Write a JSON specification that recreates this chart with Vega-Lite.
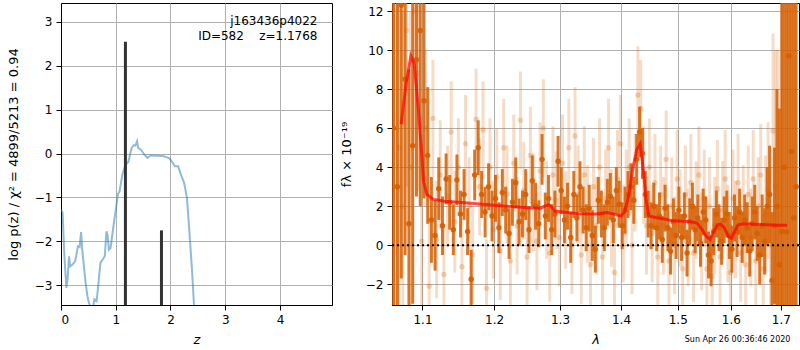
{
"$schema": "https://vega.github.io/schema/vega-lite/v6.json",
"padding": {"left": 6, "top": 2, "right": 0, "bottom": 0},
"spacing": 6,
"config": {
  "view": {"stroke": "black", "strokeWidth": 1},
  "font": "DejaVu Sans",
  "axis": {"grid": true, "gridColor": "#b0b0b0", "gridWidth": 1, "domainColor": "black", "tickColor": "black", "tickSize": 5, "labelFontSize": 12, "labelColor": "black", "labelPadding": 4, "titleFontSize": 13, "titleFontWeight": "normal", "titleColor": "black", "labelFont": "DejaVu Sans", "titleFont": "DejaVu Sans"}
},
"datasets": {
  "pz": [
    {"z":0.0,"lp":-1.27},{"z":0.03,"lp":-1.35},{"z":0.06,"lp":-2.3},{"z":0.098,"lp":-3.06},{"z":0.12,"lp":-2.87},{"z":0.147,"lp":-2.34},{"z":0.165,"lp":-2.57},{"z":0.21,"lp":-2.53},{"z":0.26,"lp":-2.45},{"z":0.31,"lp":-2.11},{"z":0.34,"lp":-2.13},{"z":0.367,"lp":-1.79},{"z":0.385,"lp":-2.15},{"z":0.446,"lp":-2.91},{"z":0.483,"lp":-3.25},{"z":0.51,"lp":-3.4},{"z":0.57,"lp":-3.6},{"z":0.61,"lp":-3.32},{"z":0.65,"lp":-3.36},{"z":0.67,"lp":-3.14},{"z":0.72,"lp":-2.49},{"z":0.78,"lp":-2.38},{"z":0.8,"lp":-2.34},{"z":0.83,"lp":-1.77},{"z":0.85,"lp":-1.85},{"z":0.875,"lp":-2.19},{"z":0.905,"lp":-2.15},{"z":0.954,"lp":-1.69},{"z":0.997,"lp":-1.31},{"z":1.04,"lp":-0.92},{"z":1.07,"lp":-0.86},{"z":1.12,"lp":-0.48},{"z":1.18,"lp":-0.25},{"z":1.23,"lp":-0.19},{"z":1.29,"lp":0.13},{"z":1.33,"lp":0.19},{"z":1.36,"lp":0.18},{"z":1.39,"lp":0.28},{"z":1.41,"lp":0.13},{"z":1.46,"lp":0.09},{"z":1.52,"lp":-0.02},{"z":1.58,"lp":-0.1},{"z":1.64,"lp":-0.04},{"z":1.7,"lp":-0.05},{"z":1.79,"lp":-0.05},{"z":1.88,"lp":-0.06},{"z":1.98,"lp":-0.11},{"z":2.04,"lp":-0.21},{"z":2.08,"lp":-0.29},{"z":2.14,"lp":-0.29},{"z":2.19,"lp":-0.48},{"z":2.25,"lp":-0.67},{"z":2.3,"lp":-1.01},{"z":2.34,"lp":-1.69},{"z":2.39,"lp":-2.6},{"z":2.43,"lp":-3.45},{"z":2.46,"lp":-4.0}
  ],
  "zl": [{"z":1.1768,"y0":-3.6,"y1":2.55},{"z":1.835,"y0":-3.6,"y1":-1.75}],
  "ann": [{"z":4.685,"y":3.02,"t":"j163436p4022"},{"z":4.685,"y":2.68,"t":"ID=582\u00a0\u00a0\u00a0\u00a0z=1.1768"}],
  "dk": [
    {"l":1.062,"f":6.0,"lo":-9,"hi":21},{"l":1.067,"f":3.0,"lo":-9,"hi":15},{"l":1.072,"f":12.3,"lo":-1.7,"hi":26.3},{"l":1.077,"f":8.5,"lo":-0.5,"hi":17.5},{"l":1.082,"f":1.1,"lo":-6,"hi":9},{"l":1.087,"f":5.1,"lo":-3,"hi":16},{"l":1.092,"f":9.5,"lo":2.5,"hi":16.5},{"l":1.097,"f":11.0,"lo":2,"hi":20},{"l":1.102,"f":7.4,"lo":2.4,"hi":12.4},{"l":1.107,"f":4.6,"lo":1.1,"hi":8.1},
    {"l":1.112,"f":1.3,"lo":-0.9,"hi":3.5},{"l":1.117,"f":0.5,"lo":-1.3,"hi":2.3},{"l":1.122,"f":2.9,"lo":1.3,"hi":4.5},{"l":1.127,"f":1.0,"lo":-0.5,"hi":2.5},{"l":1.132,"f":3.4,"lo":2.1,"hi":4.7},{"l":1.137,"f":2.2,"lo":0.8,"hi":3.6},{"l":1.142,"f":0.8,"lo":-0.5,"hi":2.1},{"l":1.147,"f":3.35,"lo":2.05,"hi":4.65},{"l":1.152,"f":1.6,"lo":0.4,"hi":2.8},{"l":1.157,"f":2.6,"lo":1.3,"hi":3.9},
    {"l":1.162,"f":0.7,"lo":-0.5,"hi":1.9},{"l":1.167,"f":-1.74,"lo":-3.24,"hi":-0.24},{"l":1.172,"f":3.6,"lo":2.3,"hi":4.9},{"l":1.177,"f":5.0,"lo":3.6,"hi":6.4},{"l":1.182,"f":2.6,"lo":1.4,"hi":3.8},{"l":1.187,"f":1.7,"lo":0.4,"hi":3.0},{"l":1.192,"f":3.0,"lo":1.8,"hi":4.2},{"l":1.197,"f":1.5,"lo":0.2,"hi":2.8},{"l":1.202,"f":2.4,"lo":1.2,"hi":3.6},{"l":1.207,"f":0.9,"lo":-0.4,"hi":2.2},
    {"l":1.212,"f":2.7,"lo":1.5,"hi":3.9},{"l":1.217,"f":1.8,"lo":0.6,"hi":3.0},{"l":1.222,"f":0.6,"lo":-0.7,"hi":1.9},{"l":1.227,"f":2.2,"lo":1.0,"hi":3.4},{"l":1.232,"f":3.2,"lo":1.9,"hi":4.5},{"l":1.237,"f":1.2,"lo":0.0,"hi":2.4},{"l":1.242,"f":1.6,"lo":0.4,"hi":2.8},{"l":1.247,"f":2.6,"lo":1.3,"hi":3.9},{"l":1.252,"f":0.8,"lo":-0.4,"hi":2.0},{"l":1.257,"f":3.3,"lo":2.0,"hi":4.6},
    {"l":1.262,"f":2.0,"lo":0.8,"hi":3.2},{"l":1.267,"f":1.1,"lo":-0.1,"hi":2.3},{"l":1.272,"f":4.4,"lo":3.1,"hi":5.7},{"l":1.277,"f":1.5,"lo":0.3,"hi":2.7},{"l":1.282,"f":2.4,"lo":1.2,"hi":3.6},{"l":1.287,"f":0.8,"lo":-0.5,"hi":2.1},{"l":1.292,"f":1.6,"lo":0.4,"hi":2.8},{"l":1.297,"f":4.3,"lo":3.0,"hi":5.6},{"l":1.302,"f":2.8,"lo":1.6,"hi":4.0},{"l":1.307,"f":1.3,"lo":0.1,"hi":2.5},
    {"l":1.312,"f":2.0,"lo":0.8,"hi":3.2},{"l":1.317,"f":0.4,"lo":-0.9,"hi":1.7},{"l":1.322,"f":2.6,"lo":1.4,"hi":3.8},{"l":1.327,"f":1.4,"lo":0.2,"hi":2.6},{"l":1.332,"f":3.0,"lo":1.7,"hi":4.3},{"l":1.337,"f":1.8,"lo":0.6,"hi":3.0},{"l":1.342,"f":0.9,"lo":-0.3,"hi":2.1},{"l":1.347,"f":1.9,"lo":0.7,"hi":3.1},{"l":1.352,"f":0.5,"lo":-0.8,"hi":1.8},{"l":1.357,"f":-0.2,"lo":-1.4,"hi":1.0},
    {"l":1.362,"f":2.3,"lo":1.1,"hi":3.5},{"l":1.367,"f":1.6,"lo":0.4,"hi":2.8},{"l":1.372,"f":0.9,"lo":-0.3,"hi":2.1},{"l":1.377,"f":2.2,"lo":1.0,"hi":3.4},{"l":1.382,"f":2.5,"lo":1.3,"hi":3.7},{"l":1.387,"f":1.3,"lo":0.1,"hi":2.5},{"l":1.392,"f":2.8,"lo":1.6,"hi":4.0},{"l":1.397,"f":2.1,"lo":0.9,"hi":3.3},{"l":1.402,"f":1.0,"lo":-0.2,"hi":2.2},{"l":1.407,"f":1.8,"lo":0.6,"hi":3.0},
    {"l":1.412,"f":2.6,"lo":1.4,"hi":3.8},{"l":1.417,"f":3.0,"lo":1.8,"hi":4.2},{"l":1.422,"f":2.3,"lo":1.1,"hi":3.5},{"l":1.427,"f":4.4,"lo":3.1,"hi":5.7},{"l":1.432,"f":5.8,"lo":4.5,"hi":7.1},{"l":1.437,"f":4.7,"lo":3.4,"hi":6.0},{"l":1.442,"f":2.6,"lo":1.4,"hi":3.8},{"l":1.447,"f":1.6,"lo":0.4,"hi":2.8},{"l":1.452,"f":1.0,"lo":-0.2,"hi":2.2},{"l":1.457,"f":2.0,"lo":0.8,"hi":3.2},
    {"l":1.462,"f":0.9,"lo":-0.3,"hi":2.1},{"l":1.467,"f":1.5,"lo":0.3,"hi":2.7},{"l":1.472,"f":0.3,"lo":-0.9,"hi":1.5},{"l":1.477,"f":1.9,"lo":0.7,"hi":3.1},{"l":1.482,"f":0.9,"lo":-0.3,"hi":2.1},{"l":1.487,"f":-0.3,"lo":-1.5,"hi":0.9},{"l":1.492,"f":1.2,"lo":0.0,"hi":2.4},{"l":1.497,"f":0.5,"lo":-0.7,"hi":1.7},{"l":1.502,"f":1.8,"lo":0.6,"hi":3.0},{"l":1.507,"f":0.4,"lo":-0.8,"hi":1.6},
    {"l":1.512,"f":1.5,"lo":0.3,"hi":2.7},{"l":1.517,"f":-0.4,"lo":-1.6,"hi":0.8},{"l":1.522,"f":1.2,"lo":0.0,"hi":2.4},{"l":1.527,"f":2.0,"lo":0.8,"hi":3.2},{"l":1.532,"f":0.8,"lo":-0.4,"hi":2.0},{"l":1.537,"f":1.4,"lo":0.2,"hi":2.6},{"l":1.542,"f":0.1,"lo":-1.1,"hi":1.3},{"l":1.547,"f":1.7,"lo":0.5,"hi":2.9},{"l":1.552,"f":1.3,"lo":0.1,"hi":2.5},{"l":1.557,"f":-0.5,"lo":-1.7,"hi":0.7},
    {"l":1.562,"f":-0.8,"lo":-2.1,"hi":0.5},{"l":1.567,"f":0.7,"lo":-0.5,"hi":1.9},{"l":1.572,"f":1.6,"lo":0.4,"hi":2.8},{"l":1.577,"f":0.9,"lo":-0.3,"hi":2.1},{"l":1.582,"f":0.2,"lo":-1.0,"hi":1.4},{"l":1.587,"f":1.3,"lo":0.1,"hi":2.5},{"l":1.592,"f":1.6,"lo":0.4,"hi":2.8},{"l":1.597,"f":0.5,"lo":-0.7,"hi":1.7},{"l":1.602,"f":-0.2,"lo":-1.4,"hi":1.0},{"l":1.607,"f":1.4,"lo":0.2,"hi":2.6},
    {"l":1.612,"f":0.7,"lo":-0.6,"hi":2.0},{"l":1.617,"f":1.7,"lo":0.5,"hi":2.9},{"l":1.622,"f":0.4,"lo":-0.9,"hi":1.7},{"l":1.627,"f":1.3,"lo":0.0,"hi":2.6},{"l":1.632,"f":0.9,"lo":-0.4,"hi":2.2},{"l":1.637,"f":-0.3,"lo":-1.6,"hi":1.0},{"l":1.642,"f":1.1,"lo":-0.3,"hi":2.5},{"l":1.647,"f":1.7,"lo":0.3,"hi":3.1},{"l":1.652,"f":0.6,"lo":-0.8,"hi":2.0},{"l":1.657,"f":-0.5,"lo":-2.0,"hi":1.0},
    {"l":1.662,"f":1.0,"lo":-0.6,"hi":2.6},{"l":1.667,"f":0.2,"lo":-1.5,"hi":1.9},{"l":1.672,"f":2.0,"lo":0.0,"hi":4.0},{"l":1.677,"f":2.6,"lo":0.1,"hi":5.1},{"l":1.682,"f":-1.8,"lo":-5.3,"hi":1.7},{"l":1.687,"f":1.0,"lo":-3,"hi":5},{"l":1.692,"f":2.0,"lo":-4,"hi":8},{"l":1.697,"f":-1.0,"lo":-9,"hi":7},{"l":1.702,"f":0.7,"lo":-11.3,"hi":12.7},{"l":1.707,"f":4.0,"lo":-10,"hi":18},
    {"l":1.712,"f":0.68,"lo":-15.3,"hi":16.7},{"l":1.717,"f":9.7,"lo":-8.3,"hi":27.7},{"l":1.722,"f":4.8,"lo":-15.2,"hi":24.8},{"l":1.727,"f":1.4,"lo":-18,"hi":21},{"l":1.732,"f":3.0,"lo":-17,"hi":23}
  ],
  "lt": [
    {"l":1.064,"f":3,"lo":-7,"hi":13},{"l":1.069,"f":5.0,"lo":-4,"hi":14},{"l":1.074,"f":2.0,"lo":-8,"hi":12},{"l":1.079,"f":11.0,"lo":3,"hi":19},{"l":1.084,"f":4.0,"lo":-4,"hi":12},{"l":1.089,"f":12.0,"lo":5,"hi":19},{"l":1.094,"f":8.8,"lo":2.8,"hi":14.8},{"l":1.099,"f":0.2,"lo":-4.8,"hi":5.2},{"l":1.104,"f":6.0,"lo":2,"hi":10},{"l":1.109,"f":-2.1,"lo":-5.6,"hi":1.4},
    {"l":1.114,"f":6.5,"lo":3.5,"hi":9.5},{"l":1.119,"f":0.3,"lo":-2.7,"hi":3.3},{"l":1.124,"f":3.6,"lo":0.8,"hi":6.4},{"l":1.129,"f":-1.5,"lo":-4.1,"hi":1.1},{"l":1.134,"f":2.5,"lo":-0.1,"hi":5.1},{"l":1.139,"f":5.8,"lo":3.2,"hi":8.4},{"l":1.144,"f":1.2,"lo":-1.4,"hi":3.8},{"l":1.149,"f":4.0,"lo":1.5,"hi":6.5},{"l":1.154,"f":-1.1,"lo":-3.6,"hi":1.4},{"l":1.159,"f":5.2,"lo":2.7,"hi":7.7},
    {"l":1.164,"f":2.0,"lo":-0.5,"hi":4.5},{"l":1.169,"f":-0.5,"lo":-3.0,"hi":2.0},{"l":1.174,"f":6.45,"lo":3.85,"hi":9.05},{"l":1.179,"f":3.0,"lo":0.5,"hi":5.5},{"l":1.184,"f":5.9,"lo":3.4,"hi":8.4},{"l":1.189,"f":-2.2,"lo":-4.7,"hi":0.3},{"l":1.194,"f":4.0,"lo":1.5,"hi":6.5},{"l":1.199,"f":0.8,"lo":-1.7,"hi":3.3},{"l":1.204,"f":3.5,"lo":1.0,"hi":6.0},{"l":1.209,"f":-0.3,"lo":-2.8,"hi":2.2},
    {"l":1.214,"f":5.0,"lo":2.5,"hi":7.5},{"l":1.219,"f":2.6,"lo":0.1,"hi":5.1},{"l":1.224,"f":-0.8,"lo":-3.3,"hi":1.7},{"l":1.229,"f":4.2,"lo":1.7,"hi":6.7},{"l":1.234,"f":1.0,"lo":-1.5,"hi":3.5},{"l":1.239,"f":6.4,"lo":3.9,"hi":8.9},{"l":1.244,"f":2.8,"lo":0.3,"hi":5.3},{"l":1.249,"f":-0.6,"lo":-3.1,"hi":1.9},{"l":1.254,"f":4.6,"lo":2.1,"hi":7.1},{"l":1.259,"f":2.2,"lo":-0.3,"hi":4.7},
    {"l":1.264,"f":0.2,"lo":-2.3,"hi":2.7},{"l":1.269,"f":3.8,"lo":1.3,"hi":6.3},{"l":1.274,"f":6.0,"lo":3.5,"hi":8.5},{"l":1.279,"f":1.8,"lo":-0.7,"hi":4.3},{"l":1.284,"f":-0.4,"lo":-2.9,"hi":2.1},{"l":1.289,"f":3.6,"lo":1.1,"hi":6.1},{"l":1.294,"f":2.3,"lo":-0.2,"hi":4.8},{"l":1.299,"f":0.4,"lo":-2.1,"hi":2.9},{"l":1.304,"f":4.2,"lo":1.7,"hi":6.7},{"l":1.309,"f":1.3,"lo":-1.2,"hi":3.8},
    {"l":1.314,"f":5.0,"lo":2.5,"hi":7.5},{"l":1.319,"f":0.0,"lo":-2.5,"hi":2.5},{"l":1.324,"f":5.6,"lo":3.1,"hi":8.1},{"l":1.329,"f":2.6,"lo":0.1,"hi":5.1},{"l":1.334,"f":-0.5,"lo":-3.0,"hi":2.0},{"l":1.339,"f":3.6,"lo":1.1,"hi":6.1},{"l":1.344,"f":1.6,"lo":-0.9,"hi":4.1},{"l":1.349,"f":-1.0,"lo":-3.5,"hi":1.5},{"l":1.354,"f":3.0,"lo":0.5,"hi":5.5},{"l":1.359,"f":1.0,"lo":-1.5,"hi":3.5},
    {"l":1.364,"f":4.0,"lo":1.5,"hi":6.5},{"l":1.369,"f":-0.6,"lo":-3.1,"hi":1.9},{"l":1.374,"f":2.4,"lo":-0.1,"hi":4.9},{"l":1.379,"f":5.0,"lo":2.5,"hi":7.5},{"l":1.384,"f":1.4,"lo":-1.1,"hi":3.9},{"l":1.389,"f":-1.4,"lo":-3.9,"hi":1.1},{"l":1.394,"f":3.4,"lo":0.9,"hi":5.9},{"l":1.399,"f":5.2,"lo":2.7,"hi":7.7},{"l":1.404,"f":0.6,"lo":-1.9,"hi":3.1},{"l":1.409,"f":2.4,"lo":-0.1,"hi":4.9},
    {"l":1.414,"f":4.0,"lo":1.5,"hi":6.5},{"l":1.419,"f":0.0,"lo":-2.5,"hi":2.5},{"l":1.424,"f":3.2,"lo":0.7,"hi":5.7},{"l":1.429,"f":7.7,"lo":5.2,"hi":10.2},{"l":1.434,"f":7.0,"lo":4.5,"hi":9.5},{"l":1.439,"f":3.6,"lo":1.1,"hi":6.1},{"l":1.444,"f":1.0,"lo":-1.5,"hi":3.5},{"l":1.449,"f":4.0,"lo":1.5,"hi":6.5},{"l":1.454,"f":0.6,"lo":-1.9,"hi":3.1},{"l":1.459,"f":3.2,"lo":0.7,"hi":5.7},
    {"l":1.464,"f":-0.6,"lo":-3.1,"hi":1.9},{"l":1.469,"f":2.6,"lo":0.1,"hi":5.1},{"l":1.474,"f":1.0,"lo":-1.5,"hi":3.5},{"l":1.479,"f":4.4,"lo":1.9,"hi":6.9},{"l":1.484,"f":-0.8,"lo":-3.3,"hi":1.7},{"l":1.489,"f":2.0,"lo":-0.5,"hi":4.5},{"l":1.494,"f":0.0,"lo":-2.5,"hi":2.5},{"l":1.499,"f":3.4,"lo":0.9,"hi":5.9},{"l":1.504,"f":1.4,"lo":-1.1,"hi":3.9},{"l":1.509,"f":-1.2,"lo":-3.7,"hi":1.3},
    {"l":1.514,"f":2.6,"lo":0.1,"hi":5.1},{"l":1.519,"f":0.4,"lo":-2.1,"hi":2.9},{"l":1.524,"f":3.2,"lo":0.7,"hi":5.7},{"l":1.529,"f":-0.4,"lo":-2.9,"hi":2.1},{"l":1.534,"f":1.8,"lo":-0.7,"hi":4.3},{"l":1.539,"f":3.6,"lo":1.1,"hi":6.1},{"l":1.544,"f":0.2,"lo":-2.3,"hi":2.7},{"l":1.549,"f":2.4,"lo":-0.1,"hi":4.9},{"l":1.554,"f":-1.2,"lo":-3.7,"hi":1.3},{"l":1.559,"f":2.0,"lo":-0.5,"hi":4.5},
    {"l":1.564,"f":-1.6,"lo":-4.1,"hi":0.9},{"l":1.569,"f":1.0,"lo":-1.5,"hi":3.5},{"l":1.574,"f":2.9,"lo":0.4,"hi":5.4},{"l":1.579,"f":-0.6,"lo":-3.1,"hi":1.9},{"l":1.584,"f":1.8,"lo":-0.7,"hi":4.3},{"l":1.589,"f":3.4,"lo":0.9,"hi":5.9},{"l":1.594,"f":0.6,"lo":-1.9,"hi":3.1},{"l":1.599,"f":-1.4,"lo":-3.9,"hi":1.1},{"l":1.604,"f":2.4,"lo":-0.1,"hi":4.9},{"l":1.609,"f":0.8,"lo":-1.7,"hi":3.3},
    {"l":1.614,"f":3.2,"lo":0.7,"hi":5.7},{"l":1.619,"f":-0.4,"lo":-2.9,"hi":2.1},{"l":1.624,"f":1.6,"lo":-0.9,"hi":4.1},{"l":1.629,"f":-1.0,"lo":-3.5,"hi":1.5},{"l":1.634,"f":2.6,"lo":0.1,"hi":5.1},{"l":1.639,"f":0.4,"lo":-2.1,"hi":2.9},{"l":1.644,"f":3.4,"lo":0.9,"hi":5.9},{"l":1.649,"f":-0.8,"lo":-3.3,"hi":1.7},{"l":1.654,"f":2.0,"lo":-0.5,"hi":4.5},{"l":1.659,"f":3.6,"lo":1.0,"hi":6.2},
    {"l":1.664,"f":-1.2,"lo":-4.0,"hi":1.6},{"l":1.669,"f":1.6,"lo":-1.4,"hi":4.6},{"l":1.674,"f":2.8,"lo":-0.7,"hi":6.3},{"l":1.679,"f":0.0,"lo":-4,"hi":4},{"l":1.684,"f":5.85,"lo":0.85,"hi":10.85},{"l":1.689,"f":3.0,"lo":-4,"hi":10},{"l":1.694,"f":1.0,"lo":-8,"hi":10}
  ],
  "md": [
    {"l":1.0719,"f":6.2},{"l":1.078,"f":8.2},{"l":1.0846,"f":9.7},{"l":1.089,"f":9.3},{"l":1.0947,"f":6.9},{"l":1.0992,"f":4.6},{"l":1.1013,"f":3.3},{"l":1.1059,"f":2.6},{"l":1.1148,"f":2.35},{"l":1.13,"f":2.25},{"l":1.1586,"f":2.18},{"l":1.2,"f":2.05},{"l":1.25,"f":1.92},{"l":1.27,"f":1.9},{"l":1.276,"f":2.0},{"l":1.282,"f":2.08},{"l":1.287,"f":1.95},{"l":1.292,"f":1.75},{"l":1.3,"f":1.72},{"l":1.33,"f":1.62},{"l":1.36,"f":1.6},{"l":1.375,"f":1.68},{"l":1.385,"f":1.62},{"l":1.4,"f":1.5},{"l":1.406,"f":1.7},{"l":1.413,"f":2.5},{"l":1.42,"f":3.9},{"l":1.427,"f":4.9},{"l":1.433,"f":5.2},{"l":1.438,"f":4.0},{"l":1.443,"f":2.4},{"l":1.448,"f":1.5},{"l":1.46,"f":1.42},{"l":1.475,"f":1.35},{"l":1.49,"f":1.25},{"l":1.52,"f":1.22},{"l":1.535,"f":1.15},{"l":1.545,"f":0.8},{"l":1.553,"f":0.45},{"l":1.56,"f":0.3},{"l":1.567,"f":0.7},{"l":1.574,"f":1.05},{"l":1.58,"f":1.08},{"l":1.587,"f":0.9},{"l":1.595,"f":0.45},{"l":1.601,"f":0.35},{"l":1.607,"f":0.7},{"l":1.614,"f":1.05},{"l":1.625,"f":1.1},{"l":1.66,"f":1.07},{"l":1.69,"f":1.03},{"l":1.713,"f":1.02}
  ],
  "ts": [{"l":1.72,"f":-4.85,"t":"Sun Apr 26 00:36:46 2020"}]
},
"hconcat": [
  {
    "width": 271, "height": 302,
    "layer": [
      {"data": {"name": "pz"}, "mark": {"type": "line", "clip": true, "color": "#1f77b4", "opacity": 0.5, "strokeWidth": 2},
       "encoding": {
         "x": {"field": "z", "type": "quantitative", "scale": {"domain": [0, 4.95], "nice": false, "zero": false}, "axis": {"values": [0,1,2,3,4], "format": "d", "title": "z", "titleFontStyle": "italic", "titlePadding": 8}},
         "y": {"field": "lp", "type": "quantitative", "scale": {"domain": [-3.45, 3.43], "nice": false, "zero": false}, "axis": {"values": [-3,-2,-1,0,1,2,3], "format": "d", "title": "log p(z) / χ² = 4899/5213 = 0.94", "titlePadding": 14}}
       }},
      {"data": {"name": "zl"}, "mark": {"type": "rule", "color": "#333333", "strokeWidth": 3, "clip": true},
       "encoding": {"x": {"field": "z", "type": "quantitative"}, "y": {"field": "y0", "type": "quantitative"}, "y2": {"field": "y1"}}},
      {"data": {"name": "ann"}, "mark": {"type": "text", "align": "right", "baseline": "middle", "fontSize": 12, "color": "black"},
       "encoding": {"x": {"field": "z", "type": "quantitative"}, "y": {"field": "y", "type": "quantitative"}, "text": {"field": "t"}}}
    ]
  },
  {
    "width": 407, "height": 302,
    "layer": [
      {"data": {"name": "lt"}, "mark": {"type": "rule", "color": "#d55e00", "opacity": 0.22, "strokeWidth": 3, "clip": true},
       "encoding": {
         "x": {"field": "l", "type": "quantitative", "scale": {"type": "log", "domain": [1.06, 1.738], "nice": false}, "axis": {"values": [1.1,1.2,1.3,1.4,1.5,1.6,1.7], "format": ".1f", "title": "λ", "titleFontStyle": "italic", "titlePadding": 8}},
         "y": {"field": "lo", "type": "quantitative", "scale": {"domain": [-3.06, 12.41], "nice": false, "zero": false}, "axis": {"values": [-2,0,2,4,6,8,10,12], "format": "d", "title": "fλ × 10⁻¹⁹", "titlePadding": 12}},
         "y2": {"field": "hi"}
       }},
      {"data": {"name": "lt"}, "mark": {"type": "circle", "color": "#d55e00", "opacity": 0.25, "size": 30, "clip": true},
       "encoding": {"x": {"field": "l", "type": "quantitative"}, "y": {"field": "f", "type": "quantitative"}}},
      {"data": {"name": "dk"}, "mark": {"type": "rule", "color": "#d55e00", "opacity": 0.85, "strokeWidth": 3, "clip": true},
       "encoding": {"x": {"field": "l", "type": "quantitative"}, "y": {"field": "lo", "type": "quantitative"}, "y2": {"field": "hi"}}},
      {"data": {"name": "dk"}, "mark": {"type": "circle", "color": "#d55e00", "opacity": 0.9, "size": 30, "clip": true},
       "encoding": {"x": {"field": "l", "type": "quantitative"}, "y": {"field": "f", "type": "quantitative"}}},
      {"data": {"values": [{"y": 0}]}, "mark": {"type": "rule", "color": "black", "strokeWidth": 2, "strokeDash": [2, 3]},
       "encoding": {"y": {"field": "y", "type": "quantitative"}}},
      {"data": {"name": "md"}, "mark": {"type": "line", "color": "#ff0000", "opacity": 0.7, "strokeWidth": 3, "clip": true},
       "encoding": {"x": {"field": "l", "type": "quantitative"}, "y": {"field": "f", "type": "quantitative"}}},
      {"data": {"name": "ts"}, "mark": {"type": "text", "align": "right", "baseline": "middle", "fontSize": 8, "color": "black"},
       "encoding": {"x": {"field": "l", "type": "quantitative"}, "y": {"field": "f", "type": "quantitative"}, "text": {"field": "t"}}}
    ]
  }
]
}
